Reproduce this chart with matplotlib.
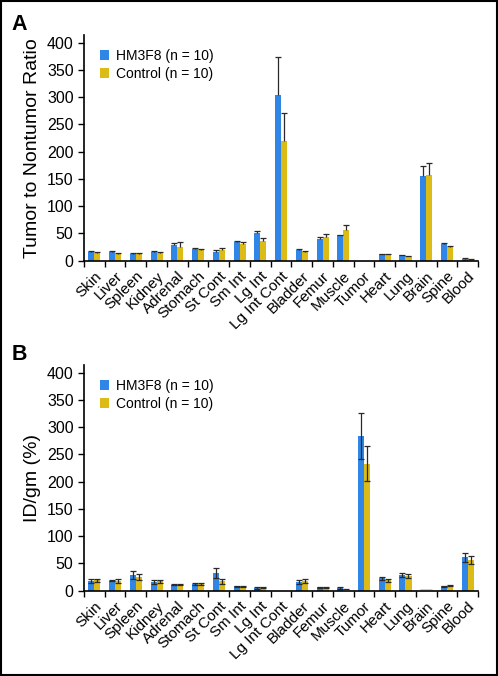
import numpy as np
import matplotlib
matplotlib.use('Agg')
from matplotlib import pyplot as plt
from matplotlib.patches import Rectangle

plt.rcParams['font.family'] = ['Liberation Sans', 'DejaVu Sans']

organs = ['Skin', 'Liver', 'Spleen', 'Kidney', 'Adrenal', 'Stomach', 'St Cont',
          'Sm Int', 'Lg Int', 'Lg Int Cont', 'Bladder', 'Femur', 'Muscle',
          'Tumor', 'Heart', 'Lung', 'Brain', 'Spine', 'Blood']

# panel A: tumor to nontumor ratio
ratio_hm = [16, 16, 13, 16, 28, 21, 16, 34, 50, 304, 20, 40, 47, 0, 12, 10, 155, 30, 4]
ratio_hm_err = [1, 1, 2, 1, 5, 2, 3, 3, 4, 70, 2, 3, 1, 0, 0.5, 0.5, 19, 2, 0.5]
ratio_ctl = [15, 13, 12, 15, 26, 19, 19, 31, 37, 220, 16, 43, 56, 0, 12, 9, 158, 25, 3]
ratio_ctl_err = [1, 1, 2, 1, 8, 2, 5, 3, 5, 50, 1, 6, 10, 0, 0.5, 0.5, 22, 2, 0.5]

# panel B: ID/gm (%)
idgm_hm = [18, 18, 29, 16, 11, 13, 32, 8, 5, 0, 16, 6, 5, 284, 23, 29, 1, 8, 61]
idgm_hm_err = [3, 1, 8, 3, 1, 2, 9, 1, 1, 0, 4, 1, 1, 42, 3, 3, 0, 1, 8]
idgm_ctl = [19, 18, 25, 17, 11, 12, 17, 7, 6, 0, 18, 6, 3, 233, 19, 27, 1, 9, 56]
idgm_ctl_err = [3, 3, 5, 3, 1, 2, 4, 1, 1, 0, 4, 1, 1, 32, 3, 4, 0, 1, 7]

blue = '#2f86e6'
gold = '#dcbb17'
w = 0.29
x = np.arange(len(organs))

fig = plt.figure(figsize=(4.98, 6.76), dpi=100)
fig.patches.append(Rectangle((0.002, 0.002), 0.996, 0.996, transform=fig.transFigure,
                             fill=False, edgecolor='black', linewidth=1.5))


def panel(ax, hm, hm_err, ctl, ctl_err, ylabel, one_sided):
    hm = np.array(hm, dtype=float)
    ctl = np.array(ctl, dtype=float)
    if one_sided:
        e1 = np.array([np.zeros(len(hm)), hm_err])
        e2 = np.array([np.zeros(len(ctl)), ctl_err])
    else:
        e1 = np.array(hm_err)
        e2 = np.array(ctl_err)
    ekw = dict(ecolor='#2a2a2a', elinewidth=0.9, capsize=2.5, capthick=0.9)
    ax.bar(x - w / 2, hm, w, color=blue, label='HM3F8 (n = 10)', zorder=2)
    ax.bar(x + w / 2, ctl, w, color=gold, label='Control (n = 10)', zorder=2)
    m1 = hm > 0
    m2 = ctl > 0
    for xs, ys, ee, m in [(x - w / 2, hm, e1, m1), (x + w / 2, ctl, e2, m2)]:
        eb = ax.errorbar(xs[m], ys[m], yerr=ee[..., m], fmt='none', zorder=3, **ekw)
        if one_sided:
            eb[1][0].set_visible(False)  # no cap at the bar top
    ax.set_xlim(-0.5, len(organs) - 0.5)
    ax.set_ylim(0, 414)
    ax.set_yticks(range(0, 401, 50))
    ax.set_xticks(x)
    ax.set_xticklabels(organs, rotation=45, ha='right', rotation_mode='anchor', fontsize=11)
    ax.set_xticks(np.arange(-0.5, len(organs), 1), minor=True)
    ax.tick_params(axis='x', which='major', length=0, pad=6)
    ax.tick_params(axis='x', which='minor', length=4, width=1, direction='out')
    ax.tick_params(axis='y', length=4, width=1, labelsize=11.5)
    for s in ['top', 'right']:
        ax.spines[s].set_visible(False)
    ax.spines['left'].set_linewidth(1.2)
    ax.spines['bottom'].set_linewidth(1.2)
    ax.set_ylabel(ylabel, fontsize=14, labelpad=4)
    ax.legend(loc='upper left', bbox_to_anchor=(0.01, 0.995), frameon=False, fontsize=10,
              handlelength=0.6, handleheight=0.7, handletextpad=0.5, labelspacing=0.3)


axA = fig.add_axes([0.1687, 0.6143, 0.7913, 0.334])
panel(axA, ratio_hm, ratio_hm_err, ratio_ctl, ratio_ctl_err, 'Tumor to Nontumor Ratio', True)
axB = fig.add_axes([0.1687, 0.1262, 0.7913, 0.334])
panel(axB, idgm_hm, idgm_hm_err, idgm_ctl, idgm_ctl_err, 'ID/gm (%)', False)

fig.text(0.024, 0.956, 'A', fontsize=15.5, fontweight='bold')
fig.text(0.024, 0.468, 'B', fontsize=15.5, fontweight='bold')

plt.savefig('out.png', dpi=100)
